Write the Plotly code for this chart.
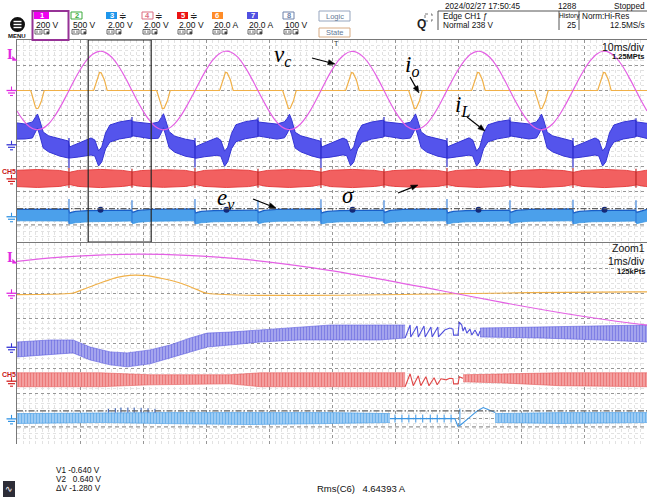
import math
import plotly.graph_objects as go

W, H = 647, 500

# ---------------- channel settings (units per div, ground position in div) ----------------
VC_SCALE, VC_POS = 200.0, 2.0      # CH1  v_c   [V]
IO_SCALE, IO_POS = 20.0, 2.0       # CH6  i_o   [A]
IL_SCALE, IL_POS = 20.0, -0.15     # CH7  i_L   [A]
SG_SCALE, SG_POS = 2.0, -1.5       # CH5  sigma [V]
EV_SCALE, EV_POS = 2.0, -3.0       # CH3  e_v   [V]
TRIG_LEVEL = 238.0                 # CH1 trigger level [V]
CURSOR_V1, CURSOR_V2 = -0.640, 0.640
ZOOM_START, ZOOM_SPAN = 11.3, 10.0  # ms

# ---------------- v_c, 1 ms samples over the 100 ms record ----------------
vc_t = list(range(0, 101))
vc_v = [-162, -236, -287, -310, -302, -265, -202, -119, -24, 73, 162, 236, 287, 310, 302, 265, 202, 119, 24, -73,
        -161, -235, -288, -311, -303, -264, -201, -118, -25, 72, 161, 237, 288, 311, 303, 266, 201, 118, 23, -72,
        -162, -237, -287, -309, -302, -265, -203, -120, -24, 74, 163, 236, 286, 309, 301, 264, 202, 120, 25, -73,
        -163, -236, -288, -310, -301, -266, -202, -119, -23, 73, 162, 235, 287, 310, 302, 265, 203, 119, 24, -74,
        -162, -236, -287, -311, -302, -265, -202, -118, -24, 73, 162, 236, 288, 311, 302, 264, 202, 118, 24, -73,
        -162]

# ---------------- i_o breakpoints ----------------
io_t = [0.0,
        2.17, 2.30, 2.62, 2.89, 3.09, 3.36, 3.57, 3.89, 4.16, 4.32,
        12.17, 12.30, 12.62, 12.89, 13.09, 13.36, 13.57, 13.89, 14.16, 14.32,
        22.17, 22.30, 22.62, 22.89, 23.09, 23.36, 23.57, 23.89, 24.16, 24.32,
        32.17, 32.30, 32.62, 32.89, 33.09, 33.36, 33.57, 33.89, 34.16, 34.32,
        42.17, 42.30, 42.62, 42.89, 43.09, 43.36, 43.57, 43.89, 44.16, 44.32,
        52.17, 52.30, 52.62, 52.89, 53.09, 53.36, 53.57, 53.89, 54.16, 54.32,
        62.17, 62.30, 62.62, 62.89, 63.09, 63.36, 63.57, 63.89, 64.16, 64.32,
        72.17, 72.30, 72.62, 72.89, 73.09, 73.36, 73.57, 73.89, 74.16, 74.32,
        82.17, 82.30, 82.62, 82.89, 83.09, 83.36, 83.57, 83.89, 84.16, 84.32,
        92.17, 92.30, 92.62, 92.89, 93.09, 93.36, 93.57, 93.89, 94.16, 94.32,
        100.0]
io_a = [0.0,
        0, -2.0, -8.0, -12.5, -14.4, -14.1, -12.0, -8.1, -2.8, 0,
        0, 2.1, 8.2, 12.7, 14.3, 14.0, 12.1, 8.2, 2.9, 0,
        0, -2.1, -8.1, -12.6, -14.5, -14.0, -12.1, -8.0, -2.9, 0,
        0, 2.0, 8.3, 12.8, 14.4, 14.1, 12.0, 8.1, 2.8, 0,
        0, -2.0, -8.2, -12.5, -14.3, -14.1, -12.0, -8.2, -2.8, 0,
        0, 2.1, 8.1, 12.6, 14.2, 13.9, 12.1, 8.2, 2.9, 0,
        0, -2.1, -8.0, -12.6, -14.4, -14.0, -12.1, -8.1, -2.9, 0,
        0, 2.0, 8.2, 12.7, 14.3, 14.0, 12.0, 8.1, 2.8, 0,
        0, -2.0, -8.1, -12.5, -14.5, -14.1, -12.0, -8.0, -2.8, 0,
        0, 2.1, 8.2, 12.7, 14.3, 14.0, 12.1, 8.2, 2.9, 0,
        0.0]

# ---------------- i_L envelope, main window ----------------
il_t = [0.0, 1.25, 2.45, 2.9, 3.25, 3.6, 4.15, 5.05, 6.75, 8.15, 8.35, 9.75, 11.75, 12.35, 12.95, 13.45, 14.05, 14.75, 16.25, 18.15,
        18.35, 21.25, 22.45, 22.9, 23.25, 23.6, 24.15, 25.05, 26.75, 28.15, 28.35, 29.75, 31.75, 32.35, 32.95, 33.45, 34.05, 34.75, 36.25, 38.15,
        38.35, 41.25, 42.45, 42.9, 43.25, 43.6, 44.15, 45.05, 46.75, 48.15, 48.35, 49.75, 51.75, 52.35, 52.95, 53.45, 54.05, 54.75, 56.25, 58.15,
        58.35, 61.25, 62.45, 62.9, 63.25, 63.6, 64.15, 65.05, 66.75, 68.15, 68.35, 69.75, 71.75, 72.35, 72.95, 73.45, 74.05, 74.75, 76.25, 78.15,
        78.35, 81.25, 82.45, 82.9, 83.25, 83.6, 84.15, 85.05, 86.75, 88.15, 88.35, 89.75, 91.75, 92.35, 92.95, 93.45, 94.05, 94.75, 96.25, 98.15,
        98.35, 100.0]
il_hi = [17.3, 16.5, 18.1, 21.2, 24.4, 19.6, 10.1, 7.0, 4.6, 3.0, -1.7, 1.4, 5.4, 3.8, -4.9, -1.7, 9.3, 15.7, 18.1, 19.6,
         18.3, 16.7, 18.0, 21.5, 24.6, 19.4, 10.4, 6.8, 4.4, 3.2, -1.5, 1.6, 5.6, 3.6, -5.1, -1.9, 9.0, 15.9, 18.3, 19.8,
         18.0, 16.4, 18.2, 21.0, 24.2, 19.8, 9.9, 7.1, 4.7, 2.9, -1.8, 1.3, 5.3, 3.9, -4.7, -1.6, 9.5, 15.6, 18.0, 19.5,
         18.2, 16.6, 17.9, 21.3, 24.5, 19.5, 10.2, 6.9, 4.5, 3.1, -1.6, 1.5, 5.5, 3.7, -5.0, -1.8, 9.2, 15.8, 18.2, 19.7,
         18.1, 16.5, 18.1, 21.1, 24.3, 19.7, 10.0, 7.0, 4.6, 3.0, -1.7, 1.4, 5.4, 3.8, -4.9, -1.7, 9.4, 15.7, 18.1, 19.6,
         18.1, 17.0]
il_lo = [4.5, 4.6, 5.4, 9.3, 13.3, 7.8, -2.5, -5.7, -8.9, -10.5, -10.5, -9.7, -8.1, -8.9, -16.8, -13.6, -3.3, 2.2, 4.6, 6.2,
         7.1, 4.8, 5.2, 9.5, 13.5, 7.6, -2.3, -5.9, -9.1, -10.3, -10.7, -9.5, -8.3, -9.1, -17.0, -13.4, -3.1, 2.4, 4.8, 6.4,
         6.9, 4.5, 5.5, 9.1, 13.1, 7.9, -2.6, -5.6, -8.8, -10.6, -10.4, -9.8, -8.0, -8.7, -16.6, -13.7, -3.4, 2.1, 4.5, 6.1,
         7.0, 4.7, 5.3, 9.4, 13.4, 7.7, -2.4, -5.8, -9.0, -10.4, -10.6, -9.6, -8.2, -9.0, -16.9, -13.5, -3.2, 2.3, 4.7, 6.3,
         7.0, 4.6, 5.4, 9.2, 13.2, 7.8, -2.5, -5.7, -8.9, -10.5, -10.5, -9.7, -8.1, -8.9, -16.8, -13.6, -3.3, 2.2, 4.6, 6.2,
         7.0, 5.0]
il_spk_t = [8.25, 8.25, None, 18.25, 18.25, None, 28.25, 28.25, None, 38.25, 38.25, None, 48.25, 48.25, None,
            58.25, 58.25, None, 68.25, 68.25, None, 78.25, 78.25, None, 88.25, 88.25, None, 98.25, 98.25]
il_spk_a = [5.4, -18.4, None, 6.2, 22.0, None, 5.4, -18.0, None, 6.2, 21.6, None, 5.4, -18.4, None,
            6.2, 22.0, None, 5.4, -17.6, None, 6.2, 21.8, None, 5.4, -18.2, None, 6.2, 21.0]

# ---------------- sigma envelope, main window ----------------
sg_t = [0.0, 3.25, 6.75, 8.15,
        8.35, 9.75, 13.25, 16.75, 18.15, 18.35, 19.75, 23.25, 26.75, 28.15,
        28.35, 29.75, 33.25, 36.75, 38.15, 38.35, 39.75, 43.25, 46.75, 48.15,
        48.35, 49.75, 53.25, 56.75, 58.15, 58.35, 59.75, 63.25, 66.75, 68.15,
        68.35, 69.75, 73.25, 76.75, 78.15, 78.35, 79.75, 83.25, 86.75, 88.15,
        88.35, 89.75, 93.25, 96.75, 98.15, 98.35, 99.75, 100.0]
sg_hi = [0.68, 0.74, 0.67, 0.55,
         0.52, 0.67, 0.75, 0.67, 0.55, 0.55, 0.66, 0.73, 0.67, 0.56,
         0.52, 0.67, 0.74, 0.68, 0.55, 0.54, 0.67, 0.74, 0.66, 0.55,
         0.52, 0.68, 0.75, 0.67, 0.55, 0.55, 0.66, 0.73, 0.67, 0.55,
         0.53, 0.67, 0.74, 0.67, 0.56, 0.55, 0.67, 0.74, 0.66, 0.55,
         0.52, 0.67, 0.75, 0.67, 0.55, 0.55, 0.67, 0.68]
sg_lo = [-0.61, -0.68, -0.60, -0.48,
         -0.45, -0.60, -0.69, -0.60, -0.48, -0.48, -0.59, -0.67, -0.60, -0.49,
         -0.45, -0.60, -0.68, -0.61, -0.48, -0.47, -0.60, -0.68, -0.59, -0.48,
         -0.45, -0.61, -0.69, -0.60, -0.48, -0.48, -0.59, -0.67, -0.60, -0.48,
         -0.46, -0.60, -0.68, -0.60, -0.49, -0.48, -0.60, -0.68, -0.59, -0.48,
         -0.45, -0.60, -0.69, -0.60, -0.48, -0.48, -0.60, -0.61]
sg_spk_t = [8.25, 8.25, None, 18.25, 18.25, None, 28.25, 28.25, None, 38.25, 38.25, None, 48.25, 48.25, None,
            58.25, 58.25, None, 68.25, 68.25, None, 78.25, 78.25, None, 88.25, 88.25, None, 98.25, 98.25]
sg_spk_v = [0.86, -0.72, None, 0.80, -0.70, None, 0.86, -0.72, None, 0.80, -0.70, None, 0.86, -0.72, None,
            0.80, -0.70, None, 0.86, -0.72, None, 0.80, -0.70, None, 0.86, -0.72, None, 0.80, -0.70]

# ---------------- e_v envelope, main window ----------------
ev_t = [0.0, 2.25, 8.15,
        8.35, 9.25, 11.25, 14.25, 18.15, 18.35, 19.25, 21.25, 24.25, 28.15,
        28.35, 29.25, 31.25, 34.25, 38.15, 38.35, 39.25, 41.25, 44.25, 48.15,
        48.35, 49.25, 51.25, 54.25, 58.15, 58.35, 59.25, 61.25, 64.25, 68.15,
        68.35, 69.25, 71.25, 74.25, 78.15, 78.35, 79.25, 81.25, 84.25, 88.15,
        88.35, 89.25, 91.25, 94.25, 98.15, 98.35, 99.25, 100.0]
ev_hi = [0.58, 0.60, 0.61,
         0.30, 0.42, 0.48, 0.52, 0.52, 0.34, 0.50, 0.58, 0.62, 0.62,
         0.30, 0.42, 0.48, 0.52, 0.52, 0.34, 0.50, 0.58, 0.62, 0.62,
         0.30, 0.42, 0.48, 0.52, 0.52, 0.34, 0.50, 0.58, 0.62, 0.62,
         0.30, 0.42, 0.48, 0.52, 0.52, 0.34, 0.50, 0.58, 0.62, 0.62,
         0.30, 0.42, 0.48, 0.52, 0.52, 0.34, 0.50, 0.58]
ev_lo = [-0.32, -0.34, -0.34,
         -0.57, -0.48, -0.40, -0.36, -0.34, -0.55, -0.44, -0.36, -0.32, -0.32,
         -0.57, -0.48, -0.40, -0.36, -0.34, -0.55, -0.44, -0.36, -0.32, -0.32,
         -0.57, -0.48, -0.40, -0.36, -0.34, -0.55, -0.44, -0.36, -0.32, -0.32,
         -0.57, -0.48, -0.40, -0.36, -0.34, -0.55, -0.44, -0.36, -0.32, -0.32,
         -0.57, -0.48, -0.40, -0.36, -0.34, -0.55, -0.44, -0.36]
ev_spk_t = sg_spk_t
ev_spk_v = [1.41, -0.57, None, 1.30, -0.50, None, 1.41, -0.57, None, 1.30, -0.50, None, 1.38, -0.57, None,
            1.30, -0.50, None, 1.41, -0.57, None, 1.30, -0.50, None, 1.35, -0.57, None, 1.30, -0.50]
ev_blob_t = [13.25, 33.25, 53.25, 73.25, 93.25]
ev_blob_v = [0.56, 0.56, 0.56, 0.56, 0.56]

# ---------------- zoom window (1 ms/div) ----------------
zil_t1 = [11.30, 11.82, 12.19, 12.46, 12.78, 13.05, 13.41, 13.73, 14.05, 14.32, 14.68, 15.16, 15.79, 16.27, 17.06, 17.46]
zil_hi1 = [4.2, 5.8, 5.8, 0.2, -3.7, -4.5, -2.1, 1.8, 7.4, 11.3, 12.1, 13.7, 16.1, 17.7, 17.7, 17.7]
zil_lo1 = [-7.7, -6.1, -4.5, -10.1, -14.0, -15.6, -13.2, -8.5, -3.7, 0.2, 1.8, 4.2, 5.8, 5.8, 5.8, 7.4]
zil_t2 = [18.65, 19.60, 20.55, 21.30]
zil_hi2 = [15.3, 16.1, 16.9, 17.7]
zil_lo2 = [8.2, 7.4, 5.8, 4.2]
zil_saw_t = [17.46, 17.54, 17.55, 17.65, 17.67, 17.76, 17.78, 17.87, 17.89, 17.98, 17.99, 18.09, 18.17, 18.22,
             18.23, 18.30, 18.32, 18.36, 18.38, 18.41, 18.44, 18.49, 18.52, 18.57, 18.62, 18.65]
zil_saw_a = [7.4, 17.7, 8.2, 16.9, 8.2, 16.9, 8.2, 16.1, 8.2, 16.1, 8.2, 13.7, 15.3, 14.5,
             9.7, 9.7, 20.0, 17.7, 12.9, 16.1, 11.3, 14.5, 9.7, 13.7, 8.9, 12.9]

zsg_t1 = [11.30, 12.62, 13.41, 14.68, 15.16, 16.27, 17.46]
zsg_hi1 = [0.67, 0.67, 0.51, 0.51, 0.67, 0.67, 0.67]
zsg_lo1 = [-0.44, -0.44, -0.29, -0.21, -0.44, -0.44, -0.44]
zsg_t2 = [18.38, 18.97, 19.92, 21.30]
zsg_hi2 = [0.51, 0.59, 0.67, 0.67]
zsg_lo2 = [-0.05, -0.13, -0.36, -0.44]
zsg_saw_t = [17.46, 17.54, 17.59, 17.67, 17.71, 17.79, 17.84, 17.92, 17.97, 18.03, 18.11, 18.17, 18.22,
             18.23, 18.30, 18.32, 18.38]
zsg_saw_v = [-0.44, 0.59, -0.36, 0.43, -0.36, 0.35, -0.36, 0.27, -0.29, 0.19, 0.11, 0.23, 0.19,
             -0.21, -0.21, 0.35, 0.23]

zev_t1 = [11.30, 12.62, 13.57, 15.00, 16.27, 17.22]
zev_hi1 = [0.42, 0.50, 0.50, 0.50, 0.50, 0.42]
zev_lo1 = [-0.37, -0.29, -0.37, -0.45, -0.37, -0.29]
zev_t2 = [18.89, 19.92, 21.30]
zev_hi2 = [0.42, 0.50, 0.50]
zev_lo2 = [-0.29, -0.37, -0.29]
zev_step_t = [17.22, 18.25, 18.30, 18.35, 18.46, 18.59, 18.70, 18.78, 18.89]
zev_step_v = [0.02, 0.02, -0.61, -0.45, 0.02, 0.58, 0.90, 0.74, 0.50]
zev_tick_t = [17.30, 17.30, None, 17.41, 17.41, None, 17.52, 17.52, None, 17.63, 17.63, None, 17.74, 17.74, None,
              17.86, 17.86, None, 17.97, 17.97, None, 18.08, 18.08, None, 18.19, 18.19, None, 18.33, 18.33]
zev_tick_v = [0.34, -0.29, None, 0.34, -0.29, None, 0.34, -0.29, None, 0.34, -0.29, None, 0.34, -0.29, None,
              0.34, -0.29, None, 0.34, -0.29, None, 0.34, -0.29, None, 0.34, -0.29, None, 0.82, -0.61]
zev_mark_t = [12.75, 12.75, None, 12.86, 12.86, None, 12.95, 12.95, None, 13.06, 13.06, None, 13.16, 13.16, None,
              13.27, 13.27, None, 13.38, 13.38, None, 13.49, 13.49]
zev_mark_v = [0.50, 0.80, None, 0.50, 0.85, None, 0.50, 0.90, None, 0.50, 0.90, None, 0.50, 0.90, None,
              0.50, 0.88, None, 0.50, 0.85, None, 0.50, 0.80]

# ---------------- colours / fonts ----------------
VC_COL = 'rgb(228,96,228)'
IO_COL = 'rgb(240,176,72)'
IL_COL = 'rgb(52,52,212)'
IL_FILL = 'rgb(84,84,236)'
SG_COL = 'rgb(228,58,58)'
SG_FILL = 'rgb(242,96,96)'
EV_COL = 'rgb(50,148,228)'
EV_EDGE = 'rgb(25,95,200)'
UI_FONT = 'Liberation Sans, Arial, sans-serif'
MATH_FONT = 'Liberation Serif, DejaVu Serif, serif'


def div(vals, scale, pos):
    return [None if v is None else pos + v / scale for v in vals]


fig = go.Figure()


def add_line(t, v, scale, pos, color, width, axes, shape='linear', opacity=1.0):
    xa, ya = axes
    fig.add_trace(go.Scatter(x=t, y=div(v, scale, pos), mode='lines', xaxis=xa, yaxis=ya,
                             line=dict(color=color, width=width, shape=shape), opacity=opacity,
                             hoverinfo='skip', connectgaps=False))


def add_band(t, lo, hi, scale, pos, edge, fill, axes, pattern=None, top_edge=None, width=0.7):
    xa, ya = axes
    fig.add_trace(go.Scatter(x=t, y=div(lo, scale, pos), mode='lines', xaxis=xa, yaxis=ya,
                             line=dict(color=edge, width=width), hoverinfo='skip'))
    kw = dict(fill='tonexty', fillcolor=fill)
    if pattern is not None:
        kw['fillpattern'] = pattern
    fig.add_trace(go.Scatter(x=t, y=div(hi, scale, pos), mode='lines', xaxis=xa, yaxis=ya,
                             line=dict(color=top_edge or edge, width=width if top_edge is None else 1.3),
                             hoverinfo='skip', **kw))


UP, LOW = ('x', 'y'), ('x2', 'y2')

# ---- main window traces ----
add_band(il_t, il_lo, il_hi, IL_SCALE, IL_POS, IL_COL, IL_FILL, UP, width=1.0)
add_line(il_spk_t, il_spk_a, IL_SCALE, IL_POS, 'rgb(40,40,200)', 1.2, UP)
add_band(sg_t, sg_lo, sg_hi, SG_SCALE, SG_POS, SG_COL, SG_FILL, UP, width=0.9)
add_line(sg_spk_t, sg_spk_v, SG_SCALE, SG_POS, 'rgb(190,40,40)', 1.2, UP)
add_band(ev_t, ev_lo, ev_hi, EV_SCALE, EV_POS, EV_COL, 'rgb(75,160,235)', UP, top_edge=EV_EDGE)
add_line(ev_spk_t, ev_spk_v, EV_SCALE, EV_POS, 'rgb(45,120,215)', 1.1, UP)
fig.add_trace(go.Scatter(x=ev_blob_t, y=div(ev_blob_v, EV_SCALE, EV_POS), mode='markers', xaxis='x', yaxis='y',
                         marker=dict(size=6, color='rgb(20,40,120)', symbol='circle'), hoverinfo='skip'))
add_line(io_t, io_a, IO_SCALE, IO_POS, IO_COL, 1.2, UP)
add_line(vc_t, vc_v, VC_SCALE, VC_POS, VC_COL, 1.2, UP, shape='spline')

# ---- zoom window traces (switching ripple rendered as a hatched band) ----
pat_il = dict(shape='|', size=3, solidity=0.5, fgcolor='rgb(78,78,218)', bgcolor='rgb(176,176,240)')
pat_sg = dict(shape='|', size=3, solidity=0.5, fgcolor='rgb(226,70,70)', bgcolor='rgb(246,172,172)')
pat_ev = dict(shape='|', size=3, solidity=0.5, fgcolor='rgb(50,146,228)', bgcolor='rgb(170,212,246)')
add_band(zil_t1, zil_lo1, zil_hi1, IL_SCALE, IL_POS, 'rgb(96,96,224)', 'rgb(176,176,240)', LOW, pattern=pat_il, width=0.6)
add_band(zil_t2, zil_lo2, zil_hi2, IL_SCALE, IL_POS, 'rgb(96,96,224)', 'rgb(176,176,240)', LOW, pattern=pat_il, width=0.6)
add_line(zil_saw_t, zil_saw_a, IL_SCALE, IL_POS, 'rgb(80,80,220)', 1.1, LOW)
add_band(zsg_t1, zsg_lo1, zsg_hi1, SG_SCALE, SG_POS, 'rgb(230,92,92)', 'rgb(246,172,172)', LOW, pattern=pat_sg, width=0.6)
add_band(zsg_t2, zsg_lo2, zsg_hi2, SG_SCALE, SG_POS, 'rgb(230,92,92)', 'rgb(246,172,172)', LOW, pattern=pat_sg, width=0.6)
add_line(zsg_saw_t, zsg_saw_v, SG_SCALE, SG_POS, 'rgb(225,70,70)', 1.1, LOW)
add_band(zev_t1, zev_lo1, zev_hi1, EV_SCALE, EV_POS, 'rgb(70,156,230)', 'rgb(170,212,246)', LOW, pattern=pat_ev, width=0.6)
add_band(zev_t2, zev_lo2, zev_hi2, EV_SCALE, EV_POS, 'rgb(70,156,230)', 'rgb(170,212,246)', LOW, pattern=pat_ev, width=0.6)
add_line(zev_step_t, zev_step_v, EV_SCALE, EV_POS, 'rgb(60,150,228)', 1.1, LOW)
add_line(zev_tick_t, zev_tick_v, EV_SCALE, EV_POS, 'rgb(60,150,228)', 1.0, LOW)
add_line(zev_mark_t, zev_mark_v, EV_SCALE, EV_POS, 'rgb(40,80,170)', 1.0, LOW)
add_line(io_t, io_a, IO_SCALE, IO_POS, IO_COL, 1.2, LOW, shape='spline')
add_line(vc_t, vc_v, VC_SCALE, VC_POS, VC_COL, 1.2, LOW, shape='spline')

# ---------------- axes / grid ----------------
GRID_MAJ = 'rgb(150,150,150)'
GRID_MIN = 'rgb(226,226,226)'
FRAME = 'rgb(120,120,120)'
X0 = 17 / W


def xaxis(rng, dt, tick0):
    return dict(domain=[X0, 1.0], range=rng, tick0=tick0, dtick=dt, showgrid=True, gridcolor=GRID_MAJ,
                griddash='dot', gridwidth=1, showticklabels=False, ticks='', zeroline=False,
                showline=True, linecolor=FRAME, linewidth=1, mirror=True, fixedrange=True,
                minor=dict(tick0=tick0, dtick=dt / 10, showgrid=True, gridcolor=GRID_MIN, gridwidth=1))


def yaxis(dom):
    return dict(domain=dom, range=[-4, 4], tick0=0, dtick=1, showgrid=True, gridcolor=GRID_MAJ,
                griddash='dot', gridwidth=1, showticklabels=False, ticks='', zeroline=False,
                showline=True, linecolor=FRAME, linewidth=1, mirror=True, fixedrange=True,
                minor=dict(tick0=0, dtick=0.2, showgrid=True, gridcolor=GRID_MIN, gridwidth=1))


# ---------------- decorations in page pixels ----------------
shapes, annos = [], []


def px(x):
    return x / W


def py(y):
    return 1 - y / H


def text(x, y, s, size=10, color='#111', anchor='left', family=UI_FONT, bold=False):
    annos.append(dict(x=px(x), y=py(y), xref='paper', yref='paper', text=f'<b>{s}</b>' if bold else s,
                      showarrow=False, xanchor=anchor, yanchor='middle', borderpad=0,
                      font=dict(size=size, color=color, family=family)))


def seg(x0, y0, x1, y1, color, width=1.0, dash=None):
    shapes.append(dict(type='line', xref='paper', yref='paper', x0=px(x0), y0=py(y0), x1=px(x1), y1=py(y1),
                       line=dict(color=color, width=width, dash=dash), layer='above'))


def box(x0, y0, x1, y1, edge=None, fill=None, width=1.0, kind='rect', dash=None):
    shapes.append(dict(type=kind, xref='paper', yref='paper', x0=px(x0), y0=py(y0), x1=px(x1), y1=py(y1),
                       line=dict(color=edge or 'rgba(0,0,0,0)', width=width if edge else 0, dash=dash),
                       fillcolor=fill or 'rgba(0,0,0,0)', layer='above'))


def poly(pts, color):
    path = 'M ' + ' L '.join(f'{px(a)} {py(b)}' for a, b in pts) + ' Z'
    shapes.append(dict(type='path', xref='paper', yref='paper', layer='above', path=path,
                       fillcolor=color, line=dict(color=color, width=0.5)))


def arrow(tx, ty, hx, hy, color='#000'):
    dx, dy = hx - tx, hy - ty
    n = math.hypot(dx, dy)
    ux, uy = dx / n, dy / n
    bx, by = hx - 7 * ux, hy - 7 * uy
    seg(tx, ty, bx, by, color, 1.2)
    poly([(hx, hy), (bx - 2.6 * uy, by + 2.6 * ux), (bx + 2.6 * uy, by - 2.6 * ux)], color)


def level_px(pos, upper):
    return (141 - pos * 25.25) if upper else (343.5 - pos * 25.125)


def ground(y, color):
    seg(11.5, y - 4, 11.5, y, color, 1.1)
    seg(6.5, y, 16.5, y, color, 1.3)
    seg(8, y + 2.5, 15, y + 2.5, color, 1.2)
    seg(10, y + 5, 13, y + 5, color, 1.1)


def trig_mark(y, color):
    text(9.5, y - 5, 'I', size=12, color=color, anchor='center', family='DejaVu Serif, serif', bold=True)
    poly([(12.5, y - 4), (12.5, y), (17, y)], color)


for upper in (True, False):
    trig_mark(level_px(VC_POS + TRIG_LEVEL / VC_SCALE, upper), 'rgb(225,40,225)')
    ground(level_px(VC_POS, upper), 'rgb(225,40,225)')
    ground(level_px(IL_POS, upper), IL_COL)
    g5 = level_px(SG_POS, upper)
    text(9, g5 - 7, 'CH5', size=7, color='rgb(200,20,20)', anchor='center', bold=True)
    ground(g5, 'rgb(210,30,30)')
    ground(level_px(EV_POS, upper), EV_COL)

# cursors (CH3) spanning both windows
for ya in ('y', 'y2'):
    shapes.append(dict(type='line', xref='paper', yref=ya, x0=X0, x1=1.0,
                       y0=EV_POS + CURSOR_V2 / EV_SCALE, y1=EV_POS + CURSOR_V2 / EV_SCALE,
                       line=dict(color='rgb(95,95,95)', width=1.2, dash='6px,2px,1.5px,2px'), layer='above'))
    shapes.append(dict(type='line', xref='paper', yref=ya, x0=X0, x1=1.0,
                       y0=EV_POS + CURSOR_V1 / EV_SCALE, y1=EV_POS + CURSOR_V1 / EV_SCALE,
                       line=dict(color='rgb(150,150,150)', width=1.2, dash='4px,3px'), layer='above'))

# zoom frame on the main window
shapes.append(dict(type='rect', xref='x', yref='y', x0=ZOOM_START, x1=ZOOM_START + ZOOM_SPAN, y0=-4, y1=4,
                   line=dict(color='rgb(40,40,40)', width=1.2), fillcolor='rgba(0,0,0,0)', layer='above'))

# timebase readouts
text(646, 47, '10ms/div', size=10.5, color='#111', anchor='right')
text(646, 56.5, '1.25MPts', size=7.5, color='#111', anchor='right', bold=True)
text(646, 248, 'Zoom1', size=10.5, color='#111', anchor='right')
text(646, 261, '1ms/div', size=10.5, color='#111', anchor='right')
text(646, 271, '125kPts', size=7.5, color='#111', anchor='right', bold=True)
text(337, 44, 'T', size=7, color='#333', anchor='center')

# signal names with arrows
MATH = dict(size=23, color='#000', family=MATH_FONT)
for (x, y, s) in [(272, 56, '<i>v</i><sub><i>c</i></sub>'), (403, 66, '<i>i</i><sub><i>o</i></sub>'),
                  (453, 106, '<i>i</i><sub><i>L</i></sub>'), (215, 199, '<i>e</i><sub><i>v</i></sub>'),
                  (340, 195, '<i>σ</i>')]:
    annos.append(dict(x=px(x), y=py(y), xref='paper', yref='paper', text=s, showarrow=False,
                      xanchor='left', yanchor='middle', font=MATH))
arrow(312, 58, 335, 64)
arrow(410, 77, 419, 93)
arrow(467, 117, 485, 131)
arrow(253, 199, 276, 208)
arrow(398, 193, 418, 185)

# ---------------- header ----------------
box(10, 17, 25, 32, fill='#111', kind='circle')
for yy in (21.5, 24.5, 27.5):
    seg(13.5, yy, 21.5, yy, 'white', 1.4)
text(17, 36, 'MENU', size=6, color='#111', anchor='center', bold=True)

ch_x = [34, 71, 106, 142, 177, 212, 247, 283]
ch_tag = [('1', 'rgb(240,0,240)', None), ('2', 'white', 'rgb(60,170,60)'), ('3', 'rgb(30,150,235)', None),
          ('4', 'white', 'rgb(220,110,130)'), ('5', 'rgb(235,20,20)', None), ('6', 'rgb(255,140,40)', None),
          ('7', 'rgb(80,80,225)', None), ('8', 'white', 'rgb(110,130,170)')]
ch_val = ['200 V', '500 V', '2.00 V', '2.00 V', '2.00 V', '20.0 A', '20.0 A', '100 V']
box(32.5, 11, 68.5, 40, edge='rgb(150,50,150)', width=2)
for i, x in enumerate(ch_x):
    num, fill, edge = ch_tag[i]
    w = 15 if i == 0 else 11
    box(x, 12, x + w, 19, edge=edge, fill=fill, width=1)
    text(x + w / 2, 15.7, num, size=7.5, color='white' if edge is None else edge, anchor='center', bold=True)
    if i in (2, 3, 4):
        text(x + 17, 15.5, '≑', size=9, color='#222', anchor='center')
    text(x + 1, 24.5, ch_val[i], size=8.5, color='#111')
    box(x + 1, 29.5, x + 8, 34, edge='#444', width=0.8)
    seg(x + 3, 30.5, x + 3, 33, '#444', 0.8)
    seg(x + 6, 30.5, x + 6, 33, '#444', 0.8)
    box(x + 10, 29.5, x + 15, 34, edge='#444', width=0.8)
    box(x + 12.5, 31.5, x + 15, 34, fill='#444')

box(319, 11, 350, 21, edge='rgb(150,165,190)', width=1)
text(334.5, 16, 'Logic', size=7.5, color='rgb(100,120,150)', anchor='center')
box(319, 28, 350, 37, edge='rgb(215,170,130)', width=1)
text(334.5, 32.5, 'State', size=7.5, color='rgb(100,120,150)', anchor='center')

text(421, 24, 'Q', size=12, color='#222', anchor='center', bold=True)
box(425, 14, 432, 21, edge='#555', width=0.8, dash='dot')

HF = 8.2
text(444, 6, '2024/02/27 17:50:45', size=HF)
text(578, 6, '1288', size=HF, anchor='right')
text(646, 6, 'Stopped', size=HF, anchor='right')
seg(438, 11, 647, 11, '#555', 1)
seg(438, 11, 438, 30, '#555', 1)
seg(559, 11, 559, 30, '#555', 1)
seg(579, 11, 579, 30, '#555', 1)
text(442, 16, 'Edge CH1 ƒ', size=HF)
text(442, 25, 'Normal 238 V', size=HF)
text(569, 16, 'History', size=6.6, anchor='center')
text(578, 25, '25', size=HF, anchor='right')
text(581, 16, 'Norm:Hi-Res', size=HF)
text(646, 25, '12.5MS/s', size=HF, anchor='right')

# ---------------- footer ----------------
box(3, 481, 15, 497, fill='rgb(45,45,55)')
text(9, 489, '∿', size=9, color='white', anchor='center')
FF = 8.2
text(55, 470, 'V1 -0.640 V', size=FF)
text(55, 479, 'V2 \u20070.640 V', size=FF)
text(55, 488, 'ΔV -1.280 V', size=FF)
text(316, 488, 'Rms(C6)\u2002 4.64393 A', size=9.5)

fig.update_layout(
    width=W, height=H, margin=dict(l=0, r=0, t=0, b=0),
    paper_bgcolor='white', plot_bgcolor='white', showlegend=False,
    xaxis=xaxis([0, 100], 10, 0), yaxis=yaxis([1 - 242 / H, 1 - 40 / H]),
    xaxis2=xaxis([ZOOM_START, ZOOM_START + ZOOM_SPAN], 1, ZOOM_START), yaxis2=yaxis([1 - 444 / H, 1 - 243 / H]),
    shapes=shapes, annotations=annos,
)
fig.write_html('out.html')
